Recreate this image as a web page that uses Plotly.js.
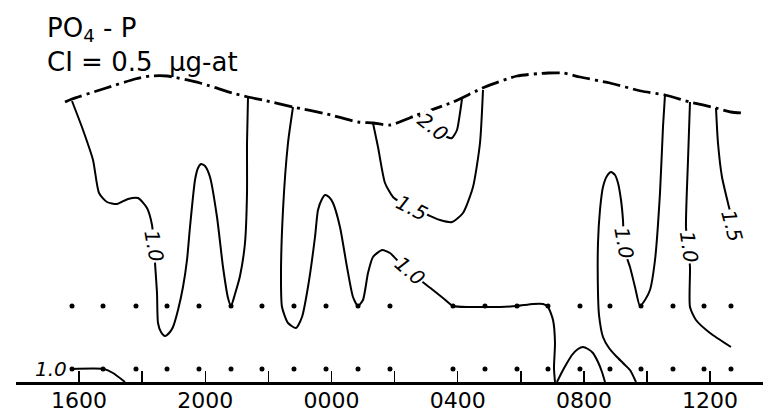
<!DOCTYPE html>
<html>
<head>
<meta charset="utf-8">
<script src="https://cdn.plot.ly/plotly-3.0.1.min.js"></script>
<style>html,body{margin:0;padding:0;background:#fff;}#chart{width:763px;height:417px;}</style>
</head>
<body>
<div id="chart"></div>
<script>
// ---- axis: hours since 1400; labels every 4 h, ticks every 2 h ----
var tickHours  = [2, 6, 10, 14, 18, 22];
var tickLabels = ["1600", "2000", "0000", "0400", "0800", "1200"];

// ---- sampling stations (hours) and the two sampled depths ----
var stationHours = [1.775, 2.758, 3.803, 4.786, 5.800, 6.815, 7.797, 8.811, 9.826, 10.840, 11.854,
                    13.851, 14.865, 15.880, 16.862, 17.876, 18.827, 19.810, 20.824, 21.807, 22.662];
var stationDepths = [306, 369];

// ---- surface (dash-dot line) ----
var surfX = [1.553, 1.775, 2.758, 3.772, 4.247, 4.786, 5.832, 6.846, 7.353, 7.829, 8.780, 9.857, 10.840,
             11.315, 11.854, 12.710, 13.851, 14.865, 15.880, 16.862, 17.338, 17.876, 18.827, 19.810,
             20.570, 21.363, 22.187, 22.662, 23.011];
var surfY = [102, 99, 89, 79, 76, 76, 83, 93, 97, 100, 107, 114, 122,
             123, 125, 115, 102, 87, 76, 73, 73, 77, 83, 91,
             95, 102, 108, 112, 113];

// ---- contour lines (hours, depth units) ----
var c1x = [1.775, 2.124, 2.441, 2.631, 2.884, 3.201, 3.550, 3.867, 4.152, 4.311, 4.374, 4.406, 4.469, 4.501,
           4.596, 4.723, 4.881, 4.976, 5.135, 5.293, 5.420, 5.515, 5.674, 5.769, 5.864, 5.990, 6.149, 6.371,
           6.561, 6.720, 6.815, 6.941, 7.100, 7.258, 7.322, 7.322, 7.353];
var c1y = [101, 130, 160, 193, 202, 204, 199, 198, 208, 225, 246, 263, 293, 323,
           332, 336, 332, 327, 310, 287, 260, 227, 180, 168, 164, 166, 177, 217,
           267, 298, 306, 294, 276, 243, 193, 143, 98];

var c2x = [8.780, 8.621, 8.463, 8.399, 8.431, 8.621, 8.875, 9.065, 9.255, 9.477, 9.572, 9.699, 9.794, 9.921,
           10.048, 10.269, 10.491, 10.681, 10.840, 10.998, 11.157, 11.315, 11.601, 11.854, 12.076, 12.425,
           12.805, 13.217, 13.534, 13.851, 14.390, 14.865, 15.341, 15.880, 16.387, 16.704, 16.862, 17.021,
           17.084, 17.052, 17.084];
var c2y = [107, 143, 210, 277, 307, 323, 328, 317, 287, 237, 210, 199, 195, 197,
           203, 227, 267, 297, 306, 300, 273, 257, 250, 253, 260, 270,
           280, 290, 298, 306, 307, 307, 307, 306, 304, 304, 307, 320,
           343, 368, 382];

var c3x = [11.315, 11.474, 11.696, 11.949, 12.171, 12.552, 13.059, 13.439, 13.819, 14.168, 14.485, 14.707, 14.802];
var c3y = [123, 147, 183, 197, 202, 208, 215, 220, 222, 213, 187, 143, 90];

var c4x = [12.773, 13.217, 13.661, 13.819, 13.978, 14.073, 14.136];
var c4y = [116, 127, 137, 138, 130, 113, 99];

var c5x = [17.147, 17.306, 17.464, 17.623, 17.813, 17.971, 18.130, 18.288, 18.447, 18.574, 18.669];
var c5y = [382, 372, 363, 355, 349, 347, 349, 353, 362, 372, 382];

var c6x = [19.651, 19.461, 19.239, 19.017, 18.796, 18.605, 18.479, 18.447, 18.447, 18.510, 18.605, 18.732,
           18.859, 18.986, 19.081, 19.176, 19.239, 19.271, 19.366, 19.461, 19.620, 19.778, 19.937, 20.095,
           20.254, 20.412, 20.507, 20.570];
var c6y = [382, 370, 363, 356, 348, 337, 315, 293, 243, 210, 187, 176,
           172, 175, 183, 200, 220, 243, 258, 267, 287, 306, 300, 290,
           260, 193, 127, 95];

var c7x = [21.363, 21.300, 21.236, 21.300, 21.363, 21.363, 21.553, 21.997, 22.662];
var c7y = [102, 160, 227, 247, 267, 307, 320, 333, 347];

var c8x = [22.187, 22.250, 22.377, 22.567, 22.640];
var c8y = [108, 143, 177, 203, 212];

var c9x = [1.743, 2.789, 3.074, 3.455];
var c9y = [369, 369, 373, 382];

// ---- contour labels ----
var labelText  = ["1.0", "1.0", "1.5", "2.0", "1.0", "1.0", "1.5", "1.0"];
var labelHours = [4.374, 12.488, 12.552, 13.217, 19.271, 21.331, 22.694, 1.109];
var labelDepth = [246, 271, 208, 127, 243, 247, 226, 369];
var labelAngle = [80, 41, 27, 38, 80, 82, 75, 0];

// ---- title text ----
var titleLines = ["PO<sub>4</sub> - P", "CI = 0.5  μg-at"];

var FONT = "DejaVu Sans, Liberation Sans, sans-serif";

function contour(x, y) {
  return {x: x, y: y, type: "scatter", mode: "lines", hoverinfo: "skip",
          line: {color: "#000", width: 2, shape: "spline", smoothing: 0.6}};
}

var traces = [
  {x: surfX, y: surfY, type: "scatter", mode: "lines", hoverinfo: "skip",
   line: {color: "#000", width: 2.8, dash: "18px,5px,3px,5px", shape: "spline", smoothing: 0.6}},
  contour(c1x, c1y), contour(c2x, c2y), contour(c3x, c3y), contour(c4x, c4y),
  contour(c5x, c5y), contour(c6x, c6y), contour(c7x, c7y), contour(c8x, c8y), contour(c9x, c9y)
];
stationDepths.forEach(function (d) {
  traces.push({x: stationHours, y: stationHours.map(function () { return d; }),
               type: "scatter", mode: "markers", hoverinfo: "skip",
               marker: {color: "#000", size: 5}});
});

var annotations = labelText.map(function (t, i) {
  return {x: labelHours[i], y: labelDepth[i], xref: "x", yref: "y", text: t, showarrow: false,
          textangle: labelAngle[i], bgcolor: i === 7 ? "rgba(0,0,0,0)" : "#fff", borderpad: 0,
          font: {family: FONT, size: 20, color: "#000", style: "italic"}};
});
annotations.push({xref: "paper", yref: "paper", x: 0.0388, y: 0.97, xanchor: "left", yanchor: "top",
                  align: "left", showarrow: false, text: titleLines.join("<br>"),
                  font: {family: FONT, size: 26, color: "#000"}});

var layout = {
  width: 763, height: 417,
  margin: {l: 16, r: 0, t: 0, b: 35, pad: 0},
  paper_bgcolor: "#fff", plot_bgcolor: "#fff",
  showlegend: false,
  xaxis: {range: [0, 23.677], showgrid: false, zeroline: false, showline: true, linecolor: "#000",
          linewidth: 2.5, ticks: "inside", ticklen: 11, tickwidth: 1.5, tickcolor: "#000",
          tickmode: "array", tickvals: tickHours, ticktext: tickLabels, ticklabelstandoff: -3,
          minor: {ticks: "inside", ticklen: 11, tickwidth: 1.5, tickcolor: "#000", tick0: 0, dtick: 2,
                  showgrid: false},
          tickfont: {family: FONT, size: 22, color: "#000"}, fixedrange: true},
  yaxis: {range: [382, 0], visible: false, showgrid: false, zeroline: false, fixedrange: true},
  annotations: annotations
};

Plotly.newPlot("chart", traces, layout, {staticPlot: true, displayModeBar: false});
</script>
</body>
</html>
